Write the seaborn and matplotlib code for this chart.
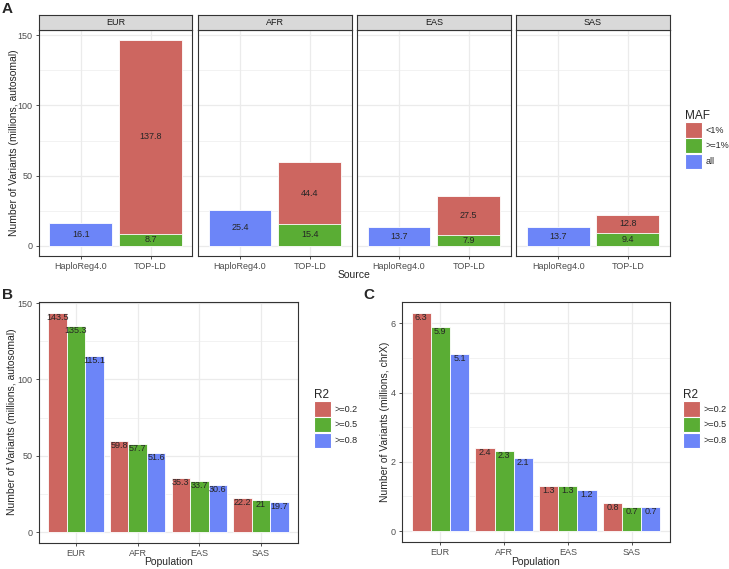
import pandas as pd
import matplotlib.pyplot as plt
import seaborn as sns
from matplotlib.patches import Patch
from matplotlib.ticker import MultipleLocator

# Panel A data (millions of variants, autosomal)
pops = ['EUR', 'AFR', 'EAS', 'SAS']
sources = ['HaploReg4.0', 'TOP-LD']
haploreg_all = [16.1, 25.4, 13.7, 13.7]
topld_common = [8.7, 15.4, 7.9, 9.4]    # MAF >= 1%
topld_rare = [137.8, 44.4, 27.5, 12.8]  # MAF < 1%
maf_levels = ['<1%', '>=1%', 'all']

# Panels B and C data
r2_levels = ['>=0.2', '>=0.5', '>=0.8']
auto_r02 = [143.5, 59.8, 35.3, 22.2]
auto_r05 = [135.3, 57.7, 33.7, 21.0]
auto_r08 = [115.1, 51.6, 30.6, 19.7]
chrx_r02 = [6.3, 2.4, 1.3, 0.8]
chrx_r05 = [5.9, 2.3, 1.3, 0.7]
chrx_r08 = [5.1, 2.1, 1.2, 0.7]

RED, GREEN, BLUE = '#CD6660', '#5AAD34', '#6C85F8'
DARK, TICKTXT, GRID = '#333333', '#4D4D4D', '#EBEBEB'

sns.set_style('white')
plt.rcParams['font.family'] = ['Liberation Sans', 'DejaVu Sans']

W, H = 729, 569
fig = plt.figure(figsize=(W / 100, H / 100), dpi=100)


def px_axes(x0, y0, x1, y1):
    return fig.add_axes([x0 / W, 1 - y1 / H, (x1 - x0) / W, (y1 - y0) / H])


def bw_style(ax, major, minor, show_y=True):
    ax.set_facecolor('white')
    ax.yaxis.set_major_locator(MultipleLocator(major))
    ax.yaxis.set_minor_locator(MultipleLocator(minor))
    ax.grid(which='major', color=GRID, lw=0.9)
    ax.grid(which='minor', axis='y', color=GRID, lw=0.45)
    ax.set_axisbelow(True)
    for s in ax.spines.values():
        s.set_color(DARK)
        s.set_linewidth(0.8)
        s.set_visible(True)
    ax.tick_params(which='major', length=2.5, width=0.6, color=DARK,
                   labelcolor=TICKTXT, labelsize=6.5, pad=2,
                   bottom=True, left=show_y, labelleft=show_y)
    ax.tick_params(which='minor', length=0, left=False)
    ax.set_xlabel('')
    ax.set_ylabel('')


def add_legend(title, labels, x, y):
    handles = [Patch(facecolor=c, edgecolor='white', linewidth=0.8) for c in [RED, GREEN, BLUE]]
    fig.legend(handles, labels, title=title, loc='upper left',
               bbox_to_anchor=(x / W, 1 - y / H), frameon=False, fontsize=6.5,
               title_fontsize=8.5, alignment='left', handlelength=1.9, handleheight=2.2,
               handletextpad=0.35, labelspacing=0.05, borderpad=0, borderaxespad=0)


# ---------------- Panel A: faceted stacked bars ----------------
facet_w, facet_step = 153.4, 159.1
for i, pop in enumerate(pops):
    x0 = 39 + i * facet_step
    ax = px_axes(x0, 30, x0 + facet_w, 256)
    totals = [haploreg_all[i], topld_common[i] + topld_rare[i]]
    sns.barplot(x=sources, y=totals, hue=sources, palette=[BLUE, RED],
                order=sources, width=0.9, legend=False, saturation=1,
                edgecolor='white', linewidth=0.6, ax=ax)
    sns.barplot(x=['TOP-LD'], y=[topld_common[i]], order=sources, saturation=1,
                color=GREEN, width=0.9, edgecolor='white', linewidth=0.6, ax=ax)
    ax.set_xlim(-0.6, 1.6)
    ax.set_ylim(-7.3, 153.8)
    bw_style(ax, 50, 25, show_y=(i == 0))
    ax.text(0, haploreg_all[i] / 2, f'{haploreg_all[i]:g}', ha='center', va='center', fontsize=6.5)
    ax.text(1, topld_common[i] / 2, f'{topld_common[i]:g}', ha='center', va='center', fontsize=6.5)
    ax.text(1, topld_common[i] + topld_rare[i] / 2, f'{topld_rare[i]:g}',
            ha='center', va='center', fontsize=6.5)

    strip = px_axes(x0, 15, x0 + facet_w, 30)
    strip.set_facecolor('#D9D9D9')
    strip.set_xticks([])
    strip.set_yticks([])
    for s in strip.spines.values():
        s.set_color(DARK)
        s.set_linewidth(0.8)
    strip.text(0.5, 0.5, pop, ha='center', va='center', fontsize=6.5,
               color='#1A1A1A', transform=strip.transAxes)

fig.text(14 / W, 1 - 143 / H, 'Number of Variants (millions, autosomal)',
         rotation=90, ha='center', va='center', fontsize=7.5)
fig.text(354 / W, 1 - 275 / H, 'Source', ha='center', va='center', fontsize=7.5)
add_legend('MAF', maf_levels, 685, 110)


# ---------------- Panels B and C: dodged bars ----------------
def dodged_panel(box, vals, ylim, major, minor, ylabel, ylabel_x, leg_x):
    df = pd.DataFrame({
        'Population': pops * 3,
        'R2': [r for r in r2_levels for _ in pops],
        'value': vals[0] + vals[1] + vals[2],
    })
    ax = px_axes(*box)
    sns.barplot(data=df, x='Population', y='value', hue='R2', order=pops,
                hue_order=r2_levels, palette=[RED, GREEN, BLUE], width=0.9,
                saturation=1, edgecolor='white', linewidth=0.6, legend=False, ax=ax)
    ax.set_xlim(-0.6, 3.6)
    ax.set_ylim(*ylim)
    bw_style(ax, major, minor)
    for cont in ax.containers:
        for p in cont:
            h = p.get_height()
            ax.text(p.get_x() + p.get_width() / 2, h, f'{h:g}', ha='center',
                    va='top', fontsize=6.5)
    fig.text(ylabel_x / W, 1 - 422 / H, ylabel, rotation=90, ha='center',
             va='center', fontsize=7.5)
    fig.text((box[0] + box[2]) / 2 / W, 1 - 562 / H, 'Population',
             ha='center', va='center', fontsize=7.5)
    add_legend('R2', r2_levels, leg_x, 389)


dodged_panel((39, 302, 298, 543), [auto_r02, auto_r05, auto_r08], (-7.2, 150.7),
             50, 25, 'Number of Variants (millions, autosomal)', 12, 314)
dodged_panel((402, 302, 670, 542), [chrx_r02, chrx_r05, chrx_r08], (-0.315, 6.615),
             2, 1, 'Number of Variants (millions, chrX)', 385, 683)

# panel letters
fig.text(2 / W, 1 - 9 / H, 'A', fontsize=11, fontweight='bold', va='center')
fig.text(2 / W, 1 - 295 / H, 'B', fontsize=11, fontweight='bold', va='center')
fig.text(363 / W, 1 - 295 / H, 'C', fontsize=11, fontweight='bold', va='center')

fig.savefig('out.png', dpi=100)
